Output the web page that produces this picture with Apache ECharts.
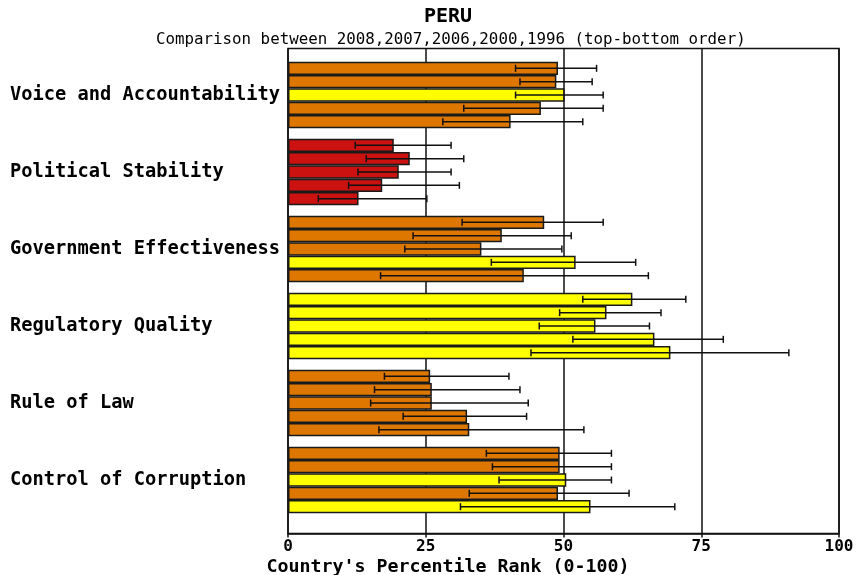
<!DOCTYPE html>
<html>
<head>
<meta charset="utf-8">
<script src="https://cdn.jsdelivr.net/npm/echarts@6/dist/echarts.min.js"></script>
<style>
  html, body { margin: 0; padding: 0; background: #fff; }
  #chart { width: 858px; height: 575px; }
</style>
</head>
<body>
<div id="chart"></div>
<script>
// indicators, top to bottom
const categories = ['Voice and Accountability', 'Political Stability', 'Government Effectiveness',
    'Regulatory Quality', 'Rule of Law', 'Control of Corruption'];
// years, top-bottom order inside each group
const years = ['2008', '2007', '2006', '2000', '1996'];

// percentile rank per year, one value per indicator
const rank2008 = [49.0, 19.2, 46.5, 62.5, 25.8, 49.3];
const rank2007 = [48.7, 22.1, 38.8, 57.8, 26.1, 49.3];
const rank2006 = [50.2, 20.1, 35.1, 55.8, 26.1, 50.5];
const rank2000 = [45.9, 17.1, 52.2, 66.5, 32.5, 49.0];
const rank1996 = [40.4, 12.8, 42.8, 69.4, 32.9, 54.9];

// error bar lower / upper bounds
const low2008 = [41.3, 12.2, 31.6, 53.5, 17.5, 36.0];
const high2008 = [56.0, 29.6, 57.2, 72.2, 40.1, 58.7];
const low2007 = [42.1, 14.2, 22.7, 49.3, 15.7, 37.1];
const high2007 = [55.2, 31.9, 51.4, 67.7, 42.1, 58.7];
const low2006 = [41.3, 12.7, 21.2, 45.6, 15.0, 38.3];
const high2006 = [57.2, 29.6, 49.7, 65.6, 43.6, 58.7];
const low2000 = [31.9, 11.0, 36.9, 51.7, 20.9, 32.9];
const high2000 = [57.2, 31.1, 63.1, 79.0, 43.3, 61.9];
const low1996 = [28.1, 5.5, 16.8, 44.1, 16.5, 31.3];
const high1996 = [53.5, 25.2, 65.4, 90.9, 53.7, 70.2];

const xTicks = [0, 25, 50, 75, 100];

const ranks = [rank2008, rank2007, rank2006, rank2000, rank1996];
const lows = [low2008, low2007, low2006, low2000, low1996];
const highs = [high2008, high2007, high2006, high2000, high1996];

const FONT = 'DejaVu Sans Mono';
const BAR_RATIO = 66.7 / 77;   // part of the band filled by the 5 bars

function rankColor(v) {
    if (v < 10) return '#880000';
    if (v < 25) return '#CC1111';
    if (v < 50) return '#DD7700';
    if (v < 75) return '#FFFF00';
    if (v < 90) return '#99CC00';
    return '#008800';
}

const chart = echarts.init(document.getElementById('chart'));

const series = [];
years.forEach(function (year, k) {
    series.push({
        name: year,
        type: 'bar',
        xAxisIndex: 0,
        yAxisIndex: 0,
        data: ranks[k],
        barWidth: (100 * BAR_RATIO / 5).toFixed(2) + '%',
        barGap: '0%',
        itemStyle: {
            color: function (p) { return rankColor(p.value); },
            borderColor: '#1a1a1a',
            borderWidth: 1.5
        },
        z: 2
    });
});
years.forEach(function (year, k) {
    series.push({
        name: year + ' err',
        type: 'custom',
        xAxisIndex: 0,
        yAxisIndex: 0,
        data: categories.map(function (c, i) { return [lows[k][i], highs[k][i], i]; }),
        encode: {x: [0, 1], y: 2},
        renderItem: function (params, api) {
            const band = api.size([0, 1])[1];
            const barH = band * BAR_RATIO / 5;
            const a = api.coord([api.value(0), api.value(2)]);
            const b = api.coord([api.value(1), api.value(2)]);
            const y = a[1] + (k - 2) * barH;
            const cap = 3.5;
            const style = {stroke: '#111', lineWidth: 1.5};
            return {
                type: 'group',
                children: [
                    {type: 'line', shape: {x1: a[0], y1: y, x2: b[0], y2: y}, style: style},
                    {type: 'line', shape: {x1: a[0], y1: y - cap, x2: a[0], y2: y + cap}, style: style},
                    {type: 'line', shape: {x1: b[0], y1: y - cap, x2: b[0], y2: y + cap}, style: style}
                ]
            };
        },
        z: 5
    });
});

const option = {
    animation: false,
    backgroundColor: '#fff',
    title: [
        {
            text: 'PERU',
            left: 419,
            top: 2,
            textStyle: {fontFamily: FONT, fontSize: 20, fontWeight: 'bold', color: '#000'}
        },
        {
            text: 'Comparison between 2008,2007,2006,2000,1996 (top-bottom order)',
            left: 151,
            top: 27,
            textStyle: {fontFamily: FONT, fontSize: 15.8, fontWeight: 'normal', color: '#000'}
        }
    ],
    grid: [
        {left: 288, right: 19, top: 56.5, height: 462, outerBoundsMode: 'none', containLabel: false},
        {left: 288, right: 19, top: 48.5, height: 485, outerBoundsMode: 'none', containLabel: false,
            show: true, borderColor: '#111', borderWidth: 1.5, backgroundColor: 'transparent'}
    ],
    xAxis: [
        {
            gridIndex: 0, type: 'value', min: 0, max: 100, show: false
        },
        {
            gridIndex: 1, type: 'value', min: 0, max: 100, interval: 25,
            name: "Country's Percentile Rank (0-100)",
            nameLocation: 'middle',
            nameGap: 24,
            nameMoveOverlap: false,
            nameTextStyle: {fontFamily: FONT, fontSize: 18.3, fontWeight: 'bold', color: '#000',
                verticalAlign: 'top', lineHeight: 20, padding: [0, 231, 0, 0]},
            axisLine: {show: true, lineStyle: {color: '#111', width: 1.5}},
            axisTick: {show: true, length: 4, lineStyle: {color: '#111', width: 1.5}},
            axisLabel: {fontFamily: FONT, fontSize: 16, fontWeight: 'bold', color: '#000', margin: 5,
                formatter: function (v) { return xTicks.indexOf(v) >= 0 ? String(v) : ''; }},
            splitLine: {show: true, lineStyle: {color: '#111', width: 1.5}}
        }
    ],
    yAxis: [
        {
            gridIndex: 0, type: 'category', data: categories, inverse: true,
            axisLine: {show: false},
            axisTick: {show: false},
            axisLabel: {fontFamily: FONT, fontSize: 18.7, fontWeight: 'bold', color: '#000',
                align: 'left', margin: 278}
        },
        {
            gridIndex: 1, type: 'value', min: 0, max: 1, show: false
        }
    ],
    series: series
};

chart.setOption(option);
</script>
</body>
</html>
